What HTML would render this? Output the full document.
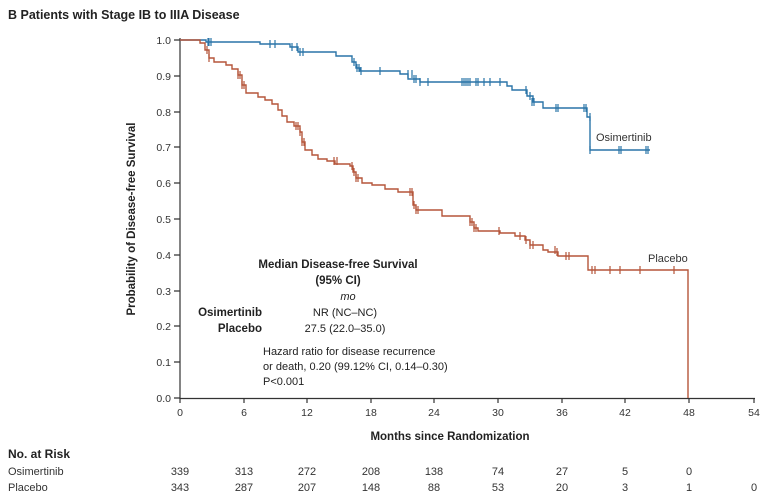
<!DOCTYPE html>
<html><head><meta charset="utf-8"><style>
body{margin:0;background:#fff;width:768px;height:502px;overflow:hidden}
svg{display:block;font-family:"Liberation Sans",sans-serif}
</style></head><body>
<svg width="768" height="502" viewBox="0 0 768 502">
<text x="8" y="19" font-size="12.5" font-weight="bold" fill="#222">B  Patients with Stage IB to IIIA Disease</text>
<g stroke="#333" stroke-width="1.2" fill="none">
<line x1="180" y1="38" x2="180" y2="399"/>
<line x1="180" y1="398.5" x2="755" y2="398.5"/>
<path d="M174 40H180M174 76H180M174 112H180M174 147H180M174 183H180M174 219H180M174 255H180M174 291H180M174 326H180M174 362H180M174 398H180"/>
<path d="M180 398v5M244 398v5M307 398v5M371 398v5M434 398v5M498 398v5M562 398v5M625 398v5M689 398v5M754 398v5"/>
</g>
<g font-size="10.5" fill="#333" text-anchor="end">
<text x="171" y="44">1.0</text><text x="171" y="80">0.9</text><text x="171" y="116">0.8</text><text x="171" y="151">0.7</text><text x="171" y="187">0.6</text><text x="171" y="223">0.5</text><text x="171" y="259">0.4</text><text x="171" y="295">0.3</text><text x="171" y="330">0.2</text><text x="171" y="366">0.1</text><text x="171" y="402">0.0</text>
</g>
<g font-size="10.5" fill="#333" text-anchor="middle">
<text x="180" y="416">0</text><text x="244" y="416">6</text><text x="307" y="416">12</text><text x="371" y="416">18</text><text x="434" y="416">24</text><text x="498" y="416">30</text><text x="562" y="416">36</text><text x="625" y="416">42</text><text x="689" y="416">48</text><text x="754" y="416">54</text>
</g>
<text x="450" y="440" font-size="11.5" font-weight="bold" fill="#222" text-anchor="middle">Months since Randomization</text>
<text transform="translate(135,219) rotate(-90)" font-size="11.5" font-weight="bold" fill="#222" text-anchor="middle">Probability of Disease-free Survival</text>
<!-- blue -->
<path fill="none" stroke="#2a74a8" stroke-width="1.4" d="M180 40H206V42H260V44H290V47H298V52H336V56H352V62H356V68H360V71H400V74H408V79H420V82H438V82H507V86H512V90H527V96H533V102H543V108H587V117H590V150H650"/>
<g stroke="#2a74a8" stroke-width="1.2">
<path d="M208 38v8M209 38v8M211 38v8M270 40v8M275 40v8M292 43v8M297 43v8M300 48v8M303 48v8M354 58v8M357 64v8M359 64v8M361 67v8M380 67v8M408 70v8M412 70v8M414 75v8M416 75v8M420 78v8M428 78v8M462 78v8M464 78v8M466 78v8M468 78v8M470 78v8M476 78v8M478 78v8M484 78v8M490 78v8M500 78v8M526 86v8M530 92v8M532 98v8M534 98v8M556 104v8M558 104v8M584 104v8M586 104v8M590 113v8M590 146v8M619 146v8M621 146v8M646 146v8M648 146v8"/>
</g>
<text x="596" y="141" font-size="11" fill="#333">Osimertinib</text>
<!-- red -->
<path fill="none" stroke="#b5553a" stroke-width="1.4" d="M180 40H200V43H205V50H209V58H214V62H226V65H232V69H238V75H242V85H246V93H258V97H265V100H272V104H278V110H282V116H287V122H294V126H300V132H302V142H305V150H312V155H318V159H327V161H335V164H350V166H353V172H356V178H362V183H372V185H385V189H398V192H413V205H416V210H442V216H470V222H474V228H478V231H500V233H515V236H525V240H530V245H543V250H548V252H558V256H588V270H688V398"/>
<g stroke="#b5553a" stroke-width="1.2">
<path d="M207 46v8M209 54v8M238 71v8M240 71v8M242 81v8M244 81v8M296 122v8M298 122v8M300 128v8M302 138v8M304 138v8M334 157v8M337 157v8M352 162v8M354 168v8M356 174v8M358 174v8M410 188v8M412 188v8M414 201v8M416 206v8M418 206v8M470 218v8M472 218v8M474 224v8M476 224v8M499 227v8M520 232v8M526 236v8M530 241v8M533 241v8M555 246v8M557 248v8M566 252v8M569 252v8M592 266v8M595 266v8M610 266v8M620 266v8M640 266v8M674 266v8"/>
</g>
<text x="648" y="262" font-size="11" fill="#333">Placebo</text>
<!-- annotation -->
<g fill="#222" font-size="11.5">
<text x="338" y="268" font-weight="bold" text-anchor="middle">Median Disease-free Survival</text>
<text x="338" y="284" font-weight="bold" text-anchor="middle">(95% CI)</text>
<text x="348" y="300" font-style="italic" font-size="11" text-anchor="middle">mo</text>
<text x="262" y="316" font-weight="bold" text-anchor="end">Osimertinib</text>
<text x="262" y="332" font-weight="bold" text-anchor="end">Placebo</text>
<text x="345" y="316" font-size="11" text-anchor="middle">NR (NC–NC)</text>
<text x="345" y="332" font-size="11" text-anchor="middle">27.5 (22.0–35.0)</text>
<text x="263" y="355" font-size="11">Hazard ratio for disease recurrence</text>
<text x="263" y="370" font-size="11">or death, 0.20 (99.12% CI, 0.14–0.30)</text>
<text x="263" y="385" font-size="11">P&lt;0.001</text>
</g>
<!-- risk table -->
<text x="8" y="458" font-size="12" font-weight="bold" fill="#222">No. at Risk</text>
<text x="8" y="475" font-size="11" fill="#333">Osimertinib</text>
<text x="8" y="491" font-size="11" fill="#333">Placebo</text>
<g font-size="11" fill="#333" text-anchor="middle">
<text x="180" y="475">339</text><text x="244" y="475">313</text><text x="307" y="475">272</text><text x="371" y="475">208</text><text x="434" y="475">138</text><text x="498" y="475">74</text><text x="562" y="475">27</text><text x="625" y="475">5</text><text x="689" y="475">0</text>
<text x="180" y="491">343</text><text x="244" y="491">287</text><text x="307" y="491">207</text><text x="371" y="491">148</text><text x="434" y="491">88</text><text x="498" y="491">53</text><text x="562" y="491">20</text><text x="625" y="491">3</text><text x="689" y="491">1</text><text x="754" y="491">0</text>
</g>
</svg>
</body></html>
